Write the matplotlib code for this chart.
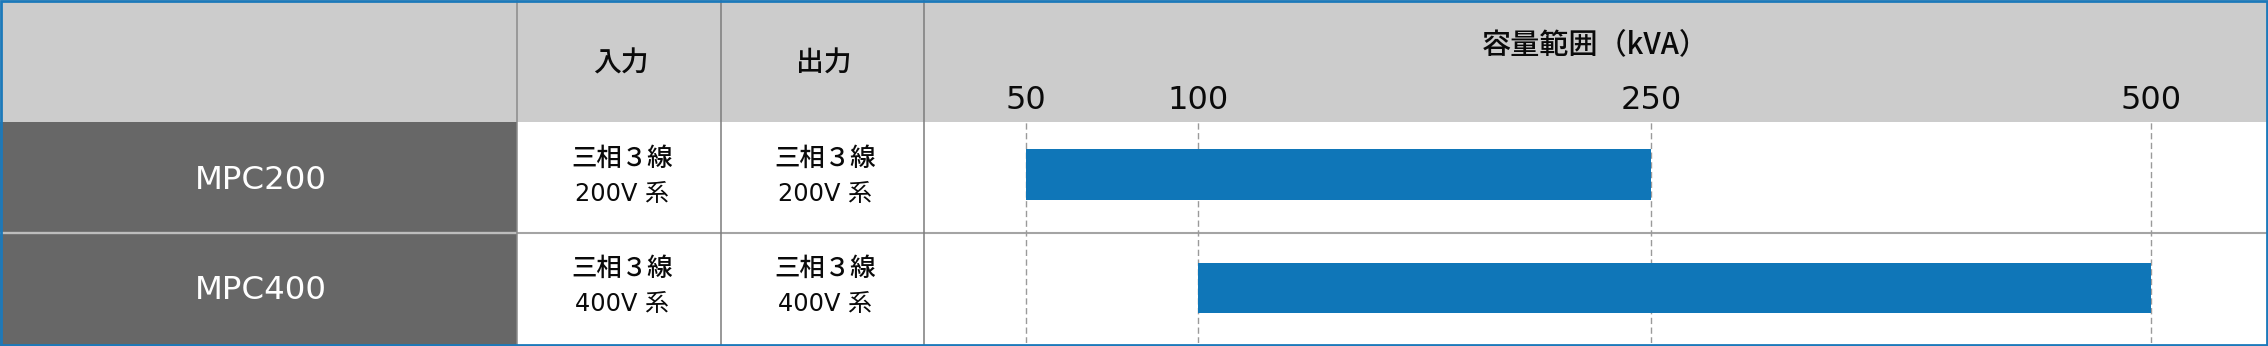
import numpy as np
import matplotlib
matplotlib.use("Agg")
import matplotlib.pyplot as plt
from matplotlib.patches import Rectangle

# ---------------- data ----------------
models = ["MPC200", "MPC400"]
phase_in = ["三相３線", "三相３線"]
volt_in = ["200V 系", "400V 系"]
phase_out = ["三相３線", "三相３線"]
volt_out = ["200V 系", "400V 系"]
cap_min = [50, 100]
cap_max = [250, 500]
tick_values = [50, 100, 250, 500]
tick_labels = ["50", "100", "250", "500"]
headers = ["入力", "出力"]
chart_title = "容量範囲（kVA）"

# ---------------- layout (pixels) ----------------
W, H = 2268, 346
col_edges = [0, 517, 721, 924, 2266]
header_bottom = 122
row_edges = [122, 232.5, 343]
tick_slots = np.array([1026.0, 1198.0, 1651.0, 2151.0])  # pixel slots of the scale knots

CJK = ["Noto Sans CJK JP", "DejaVu Sans"]
MIX = ["DejaVu Sans", "Noto Sans CJK JP"]
TXT = "#0a0a0a"

fig = plt.figure(figsize=(W / 100, H / 100), dpi=100, facecolor="white")

ax0 = fig.add_axes([0, 0, 1, 1])
ax0.set_xlim(0, W)
ax0.set_ylim(H, 0)
ax0.axis("off")

# backgrounds
ax0.add_patch(Rectangle((0, 0), W, header_bottom, fc="#cccccc", lw=0))
ax0.add_patch(Rectangle((0, header_bottom), col_edges[1], H - header_bottom, fc="#676767", lw=0))

# row divider
ax0.plot([0, col_edges[1]], [row_edges[1]] * 2, color="#bdbdbd", lw=1.7, solid_capstyle="butt")
ax0.plot([col_edges[1], W], [row_edges[1]] * 2, color="#a4a4a4", lw=1.5, solid_capstyle="butt")

# vertical lines
for x, c in zip(col_edges[1:4], ["#8a8a8a", "#7c7c7c", "#7c7c7c"]):
    ax0.plot([x, x], [0, H], color=c, lw=1.1, solid_capstyle="butt")

# header texts
col_centers = [(col_edges[i] + col_edges[i + 1]) / 2 for i in range(4)]
for i, h in enumerate(headers):
    ax0.text(col_centers[i + 1] + 1.5, 71.3, h, family=CJK, fontsize=20, weight="medium",
             ha="center", va="baseline", color=TXT)
ax0.text(col_centers[3], 53, chart_title, family=CJK, fontsize=21, weight="medium",
         ha="center", va="baseline", color=TXT)

# body texts
for r in range(len(models)):
    rc = (row_edges[r] + row_edges[r + 1]) / 2
    ax0.text(col_centers[0] + 2, rc + 11.3, models[r], family=MIX, fontsize=23.3,
             ha="center", va="baseline", color="white")
    for ci, (p, v) in enumerate([(phase_in[r], volt_in[r]), (phase_out[r], volt_out[r])]):
        cx = col_centers[ci + 1] + 3
        ax0.text(cx, rc - 11.8, p, family=CJK, fontsize=18.3, weight="medium",
                 ha="center", va="baseline", color=TXT)
        ax0.text(cx, rc + 23.4, v, family=MIX, fontsize=17.3,
                 ha="center", va="baseline", color=TXT)


# ---------------- chart with a piecewise scale ----------------
def _pw(v, xs, ys):
    a = np.asarray(v, dtype=float)
    flat = a.ravel()
    out = np.interp(flat, xs, ys)
    s0 = (ys[1] - ys[0]) / (xs[1] - xs[0])
    s1 = (ys[-1] - ys[-2]) / (xs[-1] - xs[-2])
    lo = flat < xs[0]
    hi = flat > xs[-1]
    out[lo] = ys[0] + (flat[lo] - xs[0]) * s0
    out[hi] = ys[-1] + (flat[hi] - xs[-1]) * s1
    return out.reshape(a.shape)


knots = np.array(tick_values, dtype=float)
fwd = lambda v: _pw(v, knots, tick_slots)
inv = lambda p: _pw(p, tick_slots, knots)

ax = fig.add_axes([col_edges[3] / W, (H - row_edges[2]) / H,
                   (col_edges[4] - col_edges[3]) / W, (row_edges[2] - row_edges[0]) / H])
ax.patch.set_alpha(0)
ax.set_xscale("function", functions=(fwd, inv))
ax.set_xlim(float(inv(col_edges[3])), float(inv(col_edges[4])))
ax.set_ylim(len(models) - 0.5, -0.5)

ypos = np.arange(len(models)) + np.array([-0.025, 0.005])
widths = np.array(cap_max) - np.array(cap_min)
ax.barh(ypos, widths, left=cap_min, height=0.455, color="#0f76b8", edgecolor="none")

ax.set_xticks(tick_values)
ax.set_xticklabels(tick_labels, fontsize=23, family="DejaVu Sans", color=TXT)
ax.xaxis.set_minor_locator(matplotlib.ticker.NullLocator())
ax.xaxis.tick_top()
ax.tick_params(axis="x", length=0, pad=4)
ax.set_yticks([])
for s in ax.spines.values():
    s.set_visible(False)
ax.set_axisbelow(True)
ax.grid(axis="x", color="#9a9a9a", lw=1.0, ls=(0, (4.5, 2.5)))

# outer border
border = Rectangle((1.3, 1.3), W - 2.6, H - 2.6, transform=ax0.transData, fill=False,
                   ec="#1c79ba", lw=2.0, zorder=10)
fig.add_artist(border)

fig.savefig("out.png", dpi=100, facecolor="white")
